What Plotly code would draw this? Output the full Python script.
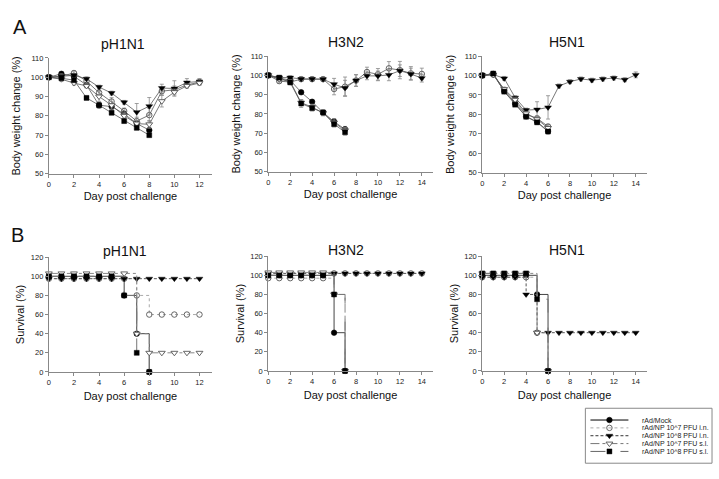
import plotly.graph_objects as go

# ---- data ----
series = ["rAd/Mock", "rAd/NP 10^7 PFU i.n.", "rAd/NP 10^8 PFU i.n.",
          "rAd/NP 10^7 PFU s.l.", "rAd/NP 10^8 PFU s.l."]

h1_days = [0, 1, 2, 3, 4, 5, 6, 7, 8, 9, 10, 11, 12]
h3_days = [0, 1, 2, 3, 4, 5, 6, 7, 8, 9, 10, 11, 12, 13, 14]
h5_days = [0, 1, 2, 3, 4, 5, 6, 7, 8, 9, 10, 11, 12, 13, 14]

# body weight change (%) - pH1N1
h1_bw_mock = [100, 101.8, 100.5, 96.0, 85.5, 84.8, 81.0, 76.0, 72.6]
h1_bw_in7 = [100, 100.5, 102.2, 98.0, 92.0, 87.4, 82.5, 77.3, 80.4, 92.8, 93.5, 96.0, 97.5]
h1_bw_in8 = [100, 100.5, 101.0, 99.2, 94.9, 91.8, 87.0, 81.9, 85.0, 94.4, 94.2, 97.3, 97.8]
h1_bw_sl7 = [100, 99.0, 97.0, 95.5, 90.0, 85.5, 80.0, 76.0, 75.6, 87.6, 92.3, 95.5, 97.0]
h1_bw_sl8 = [100, 99.5, 98.5, 89.3, 85.5, 81.6, 77.3, 73.8, 70.0]
h1_err_mock = [0, 1, 1, 1, 1.5, 1.5, 1.5, 1.5, 1.5]
h1_err_in7 = [0, 1, 1, 1, 2, 2, 1.5, 2, 3.5, 2, 2, 1.5, 1.5]
h1_err_in8 = [0, 1, 1, 1, 1, 1, 1, 4.5, 4.5, 2, 4, 2, 1.5]
h1_err_sl7 = [0, 1, 1, 1, 2.5, 2, 1.5, 1.5, 2, 3, 1.5, 1, 1]
h1_err_sl8 = [0, 1, 1, 1, 1, 1, 1, 1, 1]

# body weight change (%) - H3N2
h3_bw_mock = [100, 98.5, 97.5, 91.2, 86.3, 80.7, 76.0, 72.0]
h3_bw_in7 = [100, 97.0, 96.5, 98.0, 98.0, 98.0, 92.9, 94.1, 97.3, 101.7, 100.5, 103.6, 102.7, 101.0, 100.7]
h3_bw_in8 = [100, 98.8, 98.8, 98.1, 98.1, 98.0, 95.4, 93.4, 97.3, 99.7, 99.7, 100.2, 102.4, 100.7, 98.5]
h3_bw_sl7 = [100, 98.0, 96.8, 85.8, 83.5, 80.5, 75.5, 71.5]
h3_bw_sl8 = [100, 98.8, 96.3, 85.4, 83.0, 80.7, 74.7, 70.5]
h3_err_mock = [0, 1, 1, 1, 1, 1, 1.5, 1.5]
h3_err_in7 = [0, 1, 1, 1, 1, 1, 3, 5, 3, 2.5, 3, 3.5, 4.5, 3.5, 3]
h3_err_in8 = [0, 1, 1, 1, 1, 1, 3, 4, 3, 2, 2.5, 3, 3, 3, 2]
h3_err_sl7 = [0, 1, 1, 1.5, 1.5, 1.5, 2, 1.5]
h3_err_sl8 = [0, 1, 1, 2, 1.5, 1.5, 1.5, 1.5]

# body weight change (%) - H5N1
h5_bw_mock = [100, 100.5, 92.0, 85.5, 79.0, 76.2, 71.4]
h5_bw_in7 = [100, 100.8, 92.5, 86.5, 80.0, 78.0, 73.8]
h5_bw_in8 = [100, 100.5, 98.5, 88.6, 82.2, 82.5, 83.6, 94.6, 96.8, 98.2, 97.6, 98.2, 98.7, 97.8, 100.3]
h5_bw_sl7 = [100, 100.3, 93.0, 87.5, 80.5, 77.5, 73.0]
h5_bw_sl8 = [100, 101.0, 91.7, 85.0, 78.8, 75.9, 71.2]
h5_err_mock = [0, 1, 1, 1, 1, 1, 1.5]
h5_err_in7 = [0, 1, 1, 1, 1, 1, 1]
h5_err_in8 = [0, 1, 1, 1, 1, 4, 6, 1, 1, 1, 1, 1, 1, 1, 1.5]
h5_err_sl7 = [0, 1, 1, 1, 1, 1, 1]
h5_err_sl8 = [0, 1, 1, 1, 1, 1, 1]

# survival (%) - pH1N1
h1_sv_mock = [100, 100, 100, 100, 100, 100, 80, 40, 0]
h1_sv_in7 = [97.5, 97.5, 97.5, 97.5, 97.5, 97.5, 97.5, 80, 60, 60, 60, 60, 60]
h1_sv_in8 = [97.5, 97.5, 97.5, 97.5, 97.5, 97.5, 97.5, 97.5, 97.5, 97.5, 97.5, 97.5, 97.5]
h1_sv_sl7 = [103, 103, 103, 103, 103, 103, 103, 40, 20, 20, 20, 20, 20]
h1_sv_sl8 = [100, 100, 100, 100, 100, 100, 80, 20, 0]

# survival (%) - H3N2
h3_sv_mock = [100, 100, 100, 100, 100, 100, 40, 0]
h3_sv_in7 = [97, 97, 97, 97, 97, 97, 102, 102, 102, 102, 102, 102, 102, 102, 102]
h3_sv_in8 = [102, 102, 102, 102, 102, 102, 102, 102, 102, 102, 102, 102, 102, 102, 102]
h3_sv_sl7 = [103, 103, 103, 103, 103, 103, 80, 0]
h3_sv_sl8 = [100, 100, 100, 100, 100, 100, 80, 0]

# survival (%) - H5N1
h5_sv_mock = [100, 100, 100, 100, 100, 80, 0]
h5_sv_in7 = [98, 98, 98, 98, 98, 40, 0]
h5_sv_in8 = [98, 98, 98, 98, 80, 40, 40, 40, 40, 40, 40, 40, 40, 40, 40]
h5_sv_sl7 = [102, 102, 102, 102, 102, 40, 0]
h5_sv_sl8 = [102, 102, 102, 102, 102, 75, 0]

# ---- styles ----
W, H = 719, 479
FONT = "Liberation Sans, Arial, sans-serif"

mk = [
    dict(symbol="circle", size=5.5, color="black", line=dict(color="black", width=0.6)),
    dict(symbol="circle-open", size=5.5, color="#555", line=dict(width=0.9)),
    dict(symbol="triangle-down", size=6, color="black", line=dict(color="black", width=0.4)),
    dict(symbol="triangle-down", size=6, color="white", line=dict(color="#555", width=0.9)),
    dict(symbol="square", size=5, color="black", line=dict(color="black", width=0.4)),
]
sv_line = [
    dict(color="#444", width=1, dash="solid"),
    dict(color="#aaa", width=1, dash="dot"),
    dict(color="#555", width=1, dash="3px,2px"),
    dict(color="#888", width=1, dash="dashdot"),
    dict(color="#777", width=1, dash="longdash"),
]
leg_col = ["black", "#aaa", "#333", "#777", "#666"]


def px_x(p):
    return p / W


def px_y(p):
    return 1 - p / H


fig = go.Figure()

weights = [
    (h1_days, [h1_bw_mock, h1_bw_in7, h1_bw_in8, h1_bw_sl7, h1_bw_sl8],
     [h1_err_mock, h1_err_in7, h1_err_in8, h1_err_sl7, h1_err_sl8]),
    (h3_days, [h3_bw_mock, h3_bw_in7, h3_bw_in8, h3_bw_sl7, h3_bw_sl8],
     [h3_err_mock, h3_err_in7, h3_err_in8, h3_err_sl7, h3_err_sl8]),
    (h5_days, [h5_bw_mock, h5_bw_in7, h5_bw_in8, h5_bw_sl7, h5_bw_sl8],
     [h5_err_mock, h5_err_in7, h5_err_in8, h5_err_sl7, h5_err_sl8]),
]
survs = [
    (h1_days, [h1_sv_mock, h1_sv_in7, h1_sv_in8, h1_sv_sl7, h1_sv_sl8]),
    (h3_days, [h3_sv_mock, h3_sv_in7, h3_sv_in8, h3_sv_sl7, h3_sv_sl8]),
    (h5_days, [h5_sv_mock, h5_sv_in7, h5_sv_in8, h5_sv_sl7, h5_sv_sl8]),
]

for p, (days, ys, errs) in enumerate(weights):
    ax = "" if p == 0 else str(p + 1)
    for i in range(5):
        fig.add_trace(go.Scatter(
            x=days[:len(ys[i])], y=ys[i], mode="lines+markers", name=series[i],
            line=dict(color="#555", width=0.8), marker=mk[i],
            error_y=dict(type="data", array=errs[i], color="#888", thickness=0.8, width=2),
            xaxis="x" + ax, yaxis="y" + ax, showlegend=False, cliponaxis=False))

for p, (days, ys) in enumerate(survs):
    ax = str(p + 4)
    for i in range(5):
        fig.add_trace(go.Scatter(
            x=days[:len(ys[i])], y=ys[i], mode="lines+markers", name=series[i],
            line=dict(shape="hv", **sv_line[i]), marker=mk[i],
            xaxis="x" + ax, yaxis="y" + ax, showlegend=False, cliponaxis=False))

# legend drawn on its own small axis
leg_x = [0.04, 0.19, 0.34]
for i in range(5):
    fig.add_trace(go.Scatter(
        x=leg_x, y=[i, i, i], mode="lines", line=dict(sv_line[i], color=leg_col[i]),
        xaxis="x7", yaxis="y7", showlegend=False, hoverinfo="skip", cliponaxis=False))
    fig.add_trace(go.Scatter(
        x=[leg_x[1]], y=[i], mode="markers", marker=mk[i],
        xaxis="x7", yaxis="y7", showlegend=False, hoverinfo="skip", cliponaxis=False))

axis_common = dict(showgrid=False, zeroline=False, showline=True, linecolor="#888", linewidth=1,
                   ticks="outside", ticklen=3, tickcolor="#888",
                   tickfont=dict(size=7.5, color="#222", family=FONT))

xdom = [(47, 210.6), (267, 432), (481.6, 646.5)]
xrng = [[0, 13], [0, 15], [0, 15]]
ydomA = [(55, 173), (53, 171), (53, 172)]
ydomB = [(258, 375), (257, 374), (257, 374)]

lay = {}
for p in range(3):
    a = "" if p == 0 else str(p + 1)
    b = str(p + 4)
    lay["xaxis" + a] = dict(axis_common, domain=[px_x(xdom[p][0]), px_x(xdom[p][1])], range=xrng[p],
                            dtick=2, anchor="y" + a,
                            title=dict(text="Day post challenge", font=dict(size=11, color="#111", family=FONT), standoff=4))
    lay["yaxis" + a] = dict(axis_common, domain=[px_y(ydomA[p][1]), px_y(ydomA[p][0])], range=[50, 110],
                            dtick=10, anchor="x" + a,
                            title=dict(text="Body weight change (%)", font=dict(size=11, color="#111", family=FONT), standoff=7))
    lay["xaxis" + b] = dict(axis_common, domain=[px_x(xdom[p][0]), px_x(xdom[p][1])], range=xrng[p],
                            dtick=2, anchor="y" + b,
                            title=dict(text="Day post challenge", font=dict(size=11, color="#111", family=FONT), standoff=6))
    lay["yaxis" + b] = dict(axis_common, domain=[px_y(ydomB[p][1]), px_y(ydomB[p][0])], range=[0, 120],
                            dtick=20, anchor="x" + b,
                            title=dict(text="Survival (%)", font=dict(size=11, color="#111", family=FONT), standoff=3))

lay["xaxis7"] = dict(domain=[px_x(585), px_x(712)], range=[0, 1], visible=False, anchor="y7")
lay["yaxis7"] = dict(domain=[px_y(468), px_y(412)], range=[5.5, -1.5], visible=False, anchor="x7")

annotations = []
titles = [("pH1N1", 121, 41), ("H3N2", 345, 39), ("H5N1", 567, 39),
          ("pH1N1", 123, 252), ("H3N2", 345, 251), ("H5N1", 567, 251)]
for t, x, y in titles:
    annotations.append(dict(text=t, x=px_x(x), y=px_y(y), xref="paper", yref="paper",
                            xanchor="center", yanchor="middle",
                            showarrow=False, font=dict(size=14, color="#111", family=FONT)))
for t, x, y in [("A", 18, 23), ("B", 16, 235)]:
    annotations.append(dict(text=t, x=px_x(x), y=px_y(y), xref="paper", yref="paper",
                            xanchor="center", yanchor="middle",
                            showarrow=False, font=dict(size=20, color="#111", family=FONT)))
for i in range(5):
    annotations.append(dict(text=series[i], x=0.43, y=i, xref="x7", yref="y7",
                            xanchor="left", yanchor="middle",
                            showarrow=False, font=dict(size=7, color="#222", family=FONT)))

fig.update_layout(
    width=W, height=H, margin=dict(l=0, r=0, t=0, b=0),
    paper_bgcolor="white", plot_bgcolor="white",
    font=dict(family=FONT),
    annotations=annotations,
    shapes=[dict(type="rect", xref="x7 domain", yref="y7 domain", x0=0, x1=1, y0=0, y1=1,
                 line=dict(color="#888", width=1))],
    **lay,
)

fig.write_html("out.html", config={"displayModeBar": False},
               post_script="document.body.style.margin='0px';")
